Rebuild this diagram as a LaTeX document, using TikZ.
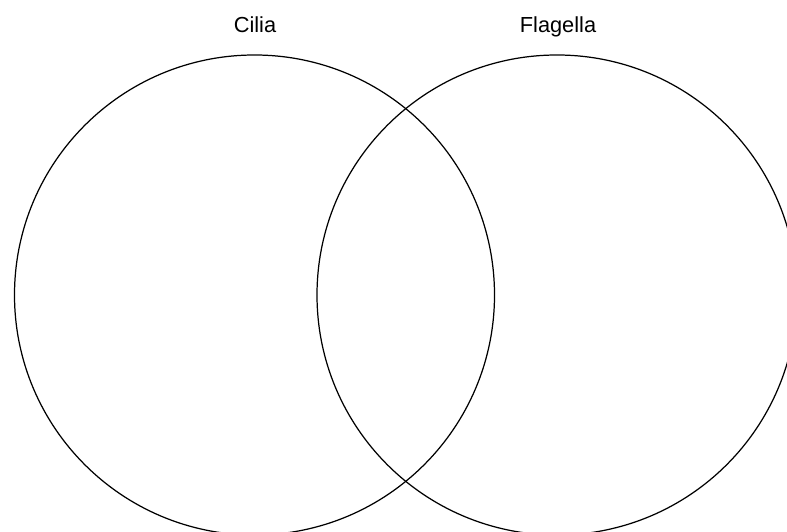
\documentclass[tikz,border=0pt]{standalone}
\usepackage{fontspec}
\setmainfont{Liberation Sans}

\begin{document}
\begin{tikzpicture}[
    x=0.02cm, y=0.02cm,
    line cap=round,
    every node/.style={font=\fontsize{12.4}{14}\selectfont, inner sep=0pt},
    conjunto/.style={draw, line width=0.7pt},
    rotulo/.style={anchor=base}
]

% Moldura
\clip (0,0) rectangle (787,531);
\useasboundingbox (0,0) rectangle (787,531);

% Centros
\coordinate (cilia) at (254.5,236);
\coordinate (flagella) at (557,236);

% Os dois conjuntos
\draw[conjunto] (cilia) circle[radius=240];
\draw[conjunto] (flagella) circle[radius=240];

% Rotulos
\node[rotulo] (rotCilia) at (255,498) {Cilia};
\node[rotulo] (rotFlagella) at (558,498) {Flagella};

\end{tikzpicture}
\end{document}
